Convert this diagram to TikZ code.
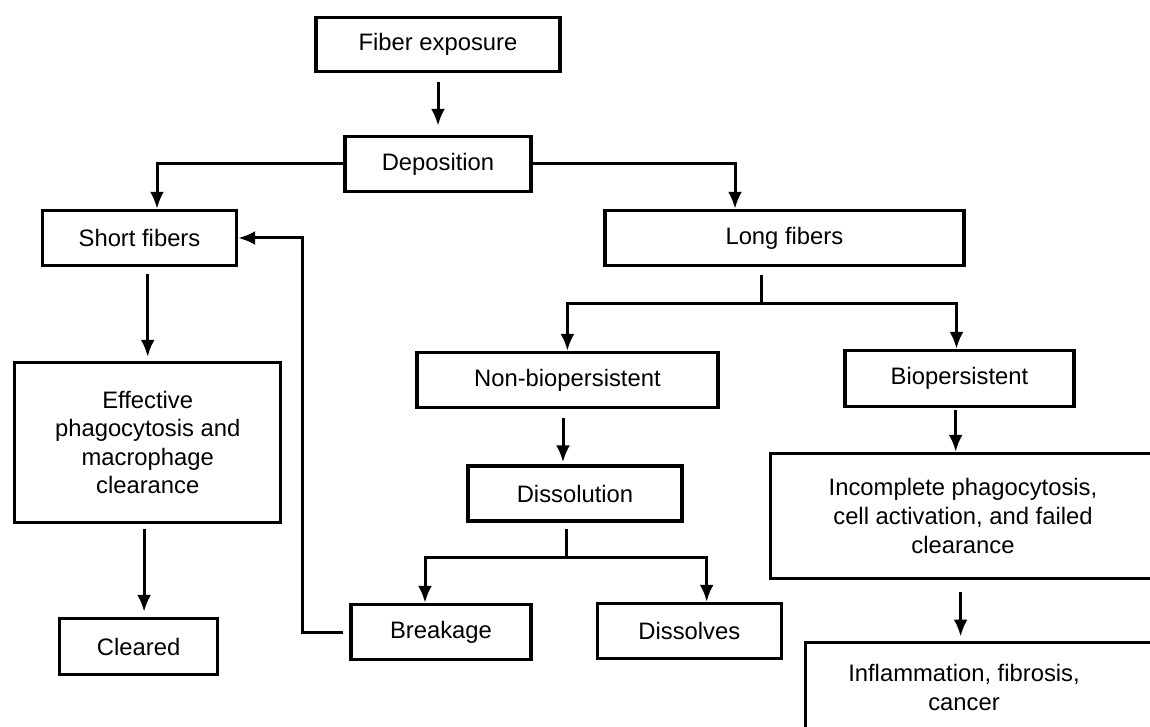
\documentclass[tikz,border=0pt]{standalone}
\usepackage{fontspec}
\setmainfont{Liberation Sans}
\usetikzlibrary{arrows.meta}
\tikzstyle{box} = [draw, line width=1.7pt, align=center, inner sep=0pt, font=\fontsize{11.9}{14.3}\selectfont]
\tikzstyle{line} = [draw, line width=1.5pt, -{Latex[length=8.5pt,width=7pt]}]

\begin{document}
\begin{tikzpicture}[x=0.5pt, y=-0.5pt, stem/.style={draw, line width=1.5pt}]
	\useasboundingbox (0,0) rectangle (1150,727);
	\clip (0,0) rectangle (1150,727);
	% Kaesten
	\node[box, minimum width=122pt, minimum height=27pt] (fiber) at (438,44.5) {Fiber exposure};
	\node[box, minimum width=93pt, minimum height=27.5pt] (depo) at (438,164) {Deposition};
	\node[box, minimum width=97pt, minimum height=27.5pt] (short) at (139.5,238) {Short fibers};
	\node[box, minimum width=179.5pt, minimum height=27.5pt] (long) at (784.4,238) {Long fibers};
	\node[box, minimum width=150.5pt, minimum height=27.5pt] (nonbio) at (567.4,380) {Non-biopersistent};
	\node[box, minimum width=114.5pt, minimum height=28pt] (bio) at (959.5,378.5) {Biopersistent};
	\node[box, minimum width=133pt, minimum height=80pt] (effect) at (147.7,442.5) {Effective\\phagocytosis and\\macrophage\\clearance};
	\node[box, minimum width=107pt, minimum height=27.5pt] (dissol) at (575,493.5) {Dissolution};
	\node[box, minimum width=90pt, minimum height=27.5pt] (breakage) at (441,632) {Breakage};
	\node[box, minimum width=92pt, minimum height=27.5pt] (dissolves) at (689.3,631) {Dissolves};
	\node[box, minimum width=79pt, minimum height=28pt] (cleared) at (138.6,646.5) {Cleared};
	\node[box, minimum width=192.5pt, minimum height=62.5pt] (incomp) at (963,516) {Incomplete phagocytosis,\\cell activation, and failed\\clearance};
	\node[box, minimum width=180pt, minimum height=60pt, anchor=north west] (inflam) at (804,640.5) {};
	\node[box, draw=none] (inflamtxt) at (964,687.5) {Inflammation, fibrosis,\\cancer};
	% Verzweigungen
	\coordinate (lsplit) at (761.6,303);
	\coordinate (dsplit) at (566.7,557);
	% Pfeile
	\draw[line, shorten <=4.5pt, shorten >=4.5pt] (fiber) -- (depo);
	\draw[line] (depo.west) -| ([xshift=8.75pt]short.north);
	\draw[line] (depo.east) -| ([xshift=-24.7pt]long.north);
	\draw[line, shorten <=3.5pt, shorten >=2pt] (short.south -| effect.north) -- (effect.north);
	\draw[line, shorten <=2.5pt, shorten >=2.5pt] ([xshift=-1.8pt]effect.south) -- ([xshift=-1.8pt]effect.south |- cleared.north);
	\draw[line, shorten <=3pt] (breakage.west) -- ++(-23.5pt,0) |- (short.east);
	\draw[stem, shorten <=4pt] (long.south -| lsplit) -- (lsplit);
	\draw[line] (lsplit) -| (nonbio.north);
	\draw[line] (lsplit) -| ([xshift=-1.5pt]bio.north);
	\draw[line, shorten <=4.5pt, shorten >=1pt] ([xshift=-2.2pt]nonbio.south) -- ([xshift=-2.2pt]nonbio.south |- dissol.north);
	\draw[stem, shorten <=3pt] (dissol.south -| dsplit) -- (dsplit);
	\draw[line] (dsplit) -| ([xshift=-8pt]breakage.north);
	\draw[line] (dsplit) -| ([xshift=8.7pt]dissolves.north);
	\draw[line, shorten <=1pt] ([xshift=-1.9pt]bio.south) -- ([xshift=-1.9pt]bio.south |- incomp.north);
	\draw[line, shorten <=6pt, shorten >=2pt] ([xshift=-1.2pt]incomp.south) -- ([xshift=-1.2pt]incomp.south |- inflam.north);
\end{tikzpicture}
\end{document}
